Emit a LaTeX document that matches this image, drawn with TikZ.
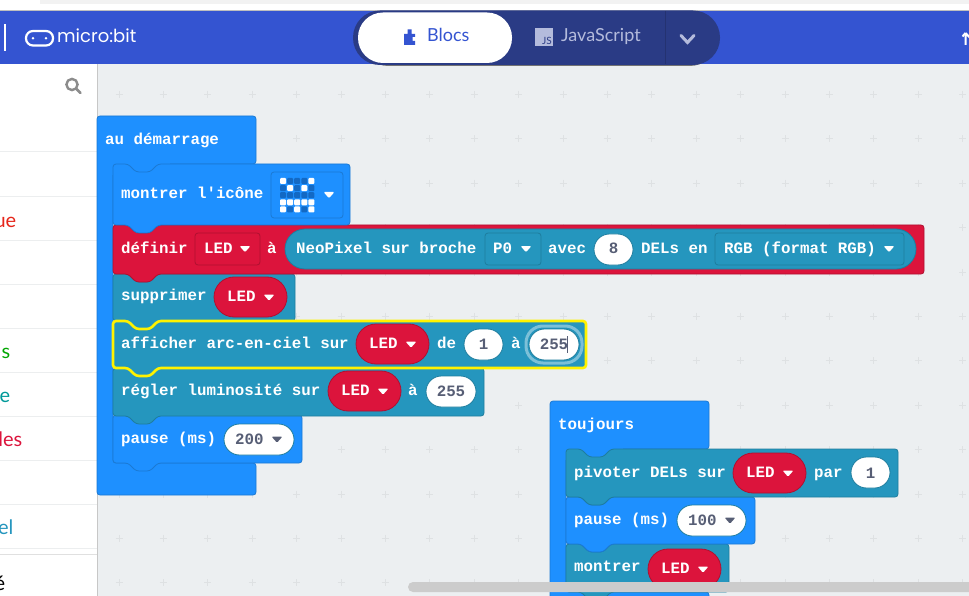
\documentclass[tikz,border=0pt]{standalone}
\usepackage{fontspec}
\setmainfont{Lato}
\newfontfamily\blockfont{Liberation Mono}[BoldFont={Liberation Mono Bold}]
\newfontfamily\logofont{Poppins}
\definecolor{bar}{HTML}{3454D1}
\definecolor{toggle}{HTML}{2A3B85}
\definecolor{soft}{HTML}{B4BBDC}
\definecolor{work}{HTML}{ECEFF1}
\definecolor{cross}{HTML}{DEE1E3}
\definecolor{sep}{HTML}{ECEEEF}
\definecolor{blu}{HTML}{1E90FF}
\definecolor{bluD}{HTML}{1B79D3}
\definecolor{tea}{HTML}{2596BE}
\definecolor{teaD}{HTML}{1E7D9E}
\definecolor{cri}{HTML}{DC143C}
\definecolor{criD}{HTML}{B01030}
\definecolor{val}{HTML}{575E75}
\definecolor{off}{HTML}{1369C4}
\tikzset{
  bt/.style={anchor=base west,inner sep=0pt,text=white,font=\blockfont\fontsize{15.8}{18}\selectfont\bfseries},
  vt/.style={anchor=base,inner sep=0pt,text=val,font=\blockfont\fontsize{15.8}{18}\selectfont\bfseries},
  vw/.style={anchor=base west,inner sep=0pt,text=val,font=\blockfont\fontsize{15.8}{18}\selectfont\bfseries},
  side/.style={anchor=base east,inner sep=0pt,font=\fontsize{20}{24}\selectfont},
  sepline/.style={draw=sep,line width=1pt},
}
\newcounter{tn}
\newcommand{\bt}[3]{\stepcounter{tn}\node[bt] (t\arabic{tn}) at (#1,#2) {#3};}
\newcommand{\vc}[3]{\stepcounter{tn}\node[vt] (t\arabic{tn}) at (#1,#2) {#3};}
\newcommand{\vw}[3]{\stepcounter{tn}\node[vw] (t\arabic{tn}) at (#1,#2) {#3};}
% x1 y1 x2 y2 fill stroke
\newcommand{\blk}[6]{\draw[fill=#5,draw=#6,line width=.8pt,rounded corners=3pt]
  (#1,#2) -- ({#1+15},#2) -- ({#1+23},{#2+8}) -- ({#1+37},{#2+8}) -- ({#1+45},#2) -- (#3,#2) -- (#3,#4)
  -- ({#1+45},#4) -- ({#1+37},{#4+8}) -- ({#1+23},{#4+8}) -- ({#1+15},#4) -- (#1,#4) -- cycle;}
\newcommand{\pill}[6]{\draw[fill=#5,draw=#6,line width=.8pt,rounded corners={(#4-#2)/2*1pt}] (#1,#2) rectangle (#3,#4);}
\newcommand{\arr}[3]{\fill[#3,rounded corners=1.2pt] ({#1-5.5},{#2-3}) -- ({#1+5.5},{#2-3}) -- (#1,{#2+3.2}) -- cycle;}
\newcommand{\ledpill}[2]{% left x, top y
  \pill{#1}{#2}{#1+73}{#2+40}{cri}{criD}
  \bt{#1+13}{#2+24}{LED}\arr{#1+55}{#2+20.5}{white}}
\begin{document}
\begin{tikzpicture}[x=1pt,y=-1pt]
\useasboundingbox (0,0) rectangle (969,596);
\clip (0,0) rectangle (969,596);
\fill[work] (0,0) rectangle (969,596);
% grid of small crosses
\foreach \i in {0,...,19}{\foreach \j in {0,...,11}{
  \pgfmathsetmacro\cx{119+44.4*\i}\pgfmathsetmacro\cy{94.4+44.4*\j}
  \draw[cross,line width=.7pt] ({\cx-3.5},\cy) -- ({\cx+3.5},\cy) ({\cx},{\cy-3.5}) -- ({\cx},{\cy+3.5});
}}
% sidebar
\fill[white] (0,64) rectangle (97,596);
\draw[draw=black!22,line width=.9pt] (97.5,64) -- (97.5,596);
\foreach \y in {152,196.5,240,284,328,372.5,416.5,460,504,548}{\draw[sepline] (0,\y) -- (97,\y);}
\draw[draw=black!12,line width=1.5pt] (0,554.5) -- (97,554.5);
\draw[draw=black!45,line width=2.4pt] (72,84.5) circle (5.6);
\draw[draw=black!45,line width=2.6pt,line cap=round] (76.5,89) -- (80.5,93);
\node[side,text={rgb,255:red,230;green,38;blue,26}] (s1) at (16.5,227) {ue};
\node[side,text=green!65!black] (s2) at (10.5,358) {s};
\node[side,text=teal!80!cyan] (s3) at (10.5,402) {e};
\node[side,text=cri] (s4) at (22.5,446) {les};
\node[side,text=tea] (s5) at (13.5,534) {el};
\node[side,text=black] (s6) at (5.5,590) {é};
% top strip and bar
\fill[white] (0,0) rectangle (969,11);
\fill[black!5] (40,0) rectangle (969,4);
\draw[black!25,line width=.8pt] (0,10.6) -- (969,10.6);
\fill[bar] (0,11) rectangle (969,64);
\fill[white] (4,24) rectangle (5.7,51);
\draw[white,line width=2.2pt,rounded corners=7pt] (26,31) rectangle (53,45.5);
\fill[white] (33,38.2) circle (1.4) (46,38.2) circle (1.4);
\node[anchor=base west,inner sep=0pt,text=white,font=\logofont\fontsize{18}{20}\selectfont] (logo) at (57,43) {micro:bit};
\draw[white,line width=2pt] (965.5,45) -- (965.5,33) (965.5,33) -- (972,40);
\draw[white,line width=2pt] (962.5,36.5) -- (965.5,33);
% toggle
\fill[black!55,rounded corners=26pt] (362,14) rectangle (716,66);
\fill[toggle,rounded corners=27pt] (353,10.5) rectangle (720,65);
\fill[white,rounded corners=25pt] (358,12.5) rectangle (512,63);
\draw[black!15!toggle,line width=.6pt] (665,11) -- (665,64);
\fill[bar] (404,34) -- (407.5,34) -- (407.5,29.5) -- (411.5,29.5) -- (411.5,34) -- (415,34) -- (415,37) -- (412.5,37) -- (412.5,41) -- (415,41) -- (415,45) -- (404,45) -- cycle;
\node[anchor=base west,inner sep=0pt,text=bar,font=\fontsize{18}{20}\selectfont] (blocs) at (427,42) {Blocs};
\fill[soft] (535,28) rectangle (553,46);
\node[anchor=base east,inner sep=0pt,text=toggle,font=\fontsize{10}{12}\selectfont] (js) at (552,45) {JS};
\node[anchor=base west,inner sep=0pt,text=soft,font=\fontsize{18}{20}\selectfont] (jsc) at (561,42) {JavaScript};
\draw[soft,line width=3pt,line cap=round] (681,35.5) -- (687.5,42.5) -- (694,35.5);
% hats
\draw[fill=blu,draw=bluD,line width=.8pt,rounded corners=3pt] (97,116) -- (256,116) -- (256,164) -- (113,164) -- (113,463) -- (256,463) -- (256,495) -- (97,495) -- cycle;
\fill[blu] (110,160) rectangle (170,175);
\draw[fill=blu,draw=bluD,line width=.8pt,rounded corners=3pt] (550,401) -- (709,401) -- (709,449) -- (566,449) -- (566,592) -- (709,592) -- (709,630) -- (550,630) -- cycle;
\fill[blu] (563,445) rectangle (623,460);
% stacked blocks, lowest first so each tab lies over the next block
\blk{113}{415}{302}{463}{blu}{bluD}
\blk{113}{368}{484}{416}{tea}{teaD}
\blk{113}{274}{295}{321}{tea}{teaD}
\blk{113}{225}{924}{274}{cri}{criD}
\blk{113}{164}{350}{225}{blu}{bluD}
\draw[fill=tea,draw=yellow,line width=2.6pt,rounded corners=3pt]
  (113,321) -- (128,321) -- (136,329) -- (150,329) -- (158,321) -- (586,321) -- (586,368)
  -- (158,368) -- (150,376) -- (136,376) -- (128,368) -- (113,368) -- cycle;
\blk{566}{544}{729}{592}{tea}{teaD}
\blk{566}{497}{755}{544}{blu}{bluD}
\blk{566}{449}{898}{497}{tea}{teaD}
% au demarrage
\bt{105}{145}{au démarrage}
\bt{121}{199}{montrer l'icône}
\draw[fill=blu,draw=bluD,line width=.8pt,rounded corners=3pt] (271,172) rectangle (343,218);
\foreach \c/\r/\s in {0/0/1,1/0/0,2/0/0,3/0/0,4/0/1,0/1/0,1/1/1,2/1/0,3/1/1,4/1/0,0/2/0,1/2/0,2/2/0,3/2/0,4/2/0,0/3/1,1/3/1,2/3/1,3/3/1,4/3/1,0/4/1,1/4/0,2/4/1,3/4/0,4/4/1}{
  \ifnum\s=1\fill[white,rounded corners=1pt] ({283+7.1*\c-3},{181+7.1*\r-3}) rectangle ++(6,6);
  \else\fill[off,rounded corners=1pt] ({283+7.1*\c-3},{181+7.1*\r-3}) rectangle ++(6,6);\fi}
\arr{329}{195}{white}
\bt{121}{253}{définir}
\draw[fill=cri,draw=criD,line width=.8pt,rounded corners=3pt] (195,233) rectangle (260,265);
\bt{204}{253}{LED}\arr{245}{249}{white}
\bt{267}{253}{à}
\pill{285}{229}{916}{269}{tea}{teaD}
\bt{296}{253}{NeoPixel sur broche}
\draw[fill=tea,draw=teaD,line width=.8pt,rounded corners=3pt] (485,233) rectangle (541,265);
\bt{493}{253}{P0}\arr{526}{249}{white}
\bt{548}{253}{avec}
\pill{594}{234}{633}{265}{white}{teaD}
\vc{613.5}{254}{8}
\bt{641}{253}{DELs en}
\draw[fill=tea,draw=teaD,line width=.8pt,rounded corners=3pt] (715,233) rectangle (904,265);
\bt{724}{253}{RGB (format RGB)}\arr{889}{249}{white}
% supprimer
\bt{121}{300}{supprimer}
\ledpill{214}{277}
% afficher
\bt{121}{348}{afficher arc-en-ciel sur}
\ledpill{356}{324}
\bt{437}{348}{de}
\pill{464}{329}{503}{360}{white}{teaD}
\vc{483.5}{349}{1}
\bt{511}{348}{à}
\draw[draw=tea!60!white,line width=3pt,rounded corners=17pt] (526,326) rectangle (582,363);
\pill{529}{329}{579}{360}{white}{teaD}
\vc{554}{349}{255}
\draw[draw=val,line width=1pt] (567.5,336) -- (567.5,353);
% regler
\bt{121}{395}{régler luminosité sur}
\ledpill{328}{371}
\bt{408}{395}{à}
\pill{426}{376}{476}{407}{white}{teaD}
\vc{451}{396}{255}
% pause
\bt{121}{443}{pause (ms)}
\pill{224}{424}{294}{455}{white}{teaD}
\vw{235}{444}{200}\arr{277}{439.5}{val}
% toujours
\bt{558}{429}{toujours}
\bt{574}{477}{pivoter DELs sur}
\ledpill{733}{453}
\bt{814}{477}{par}
\pill{851}{457}{890}{488}{white}{teaD}
\vc{870.5}{478}{1}
\bt{574}{524}{pause (ms)}
\pill{677}{505}{746}{536}{white}{teaD}
\vw{688}{525}{100}\arr{730}{520.5}{val}
\bt{574}{571}{montrer}
\ledpill{648}{549}
% scrollbar
\fill[black!20,rounded corners=5pt] (408,582) rectangle (990,592);
\end{tikzpicture}
\end{document}
